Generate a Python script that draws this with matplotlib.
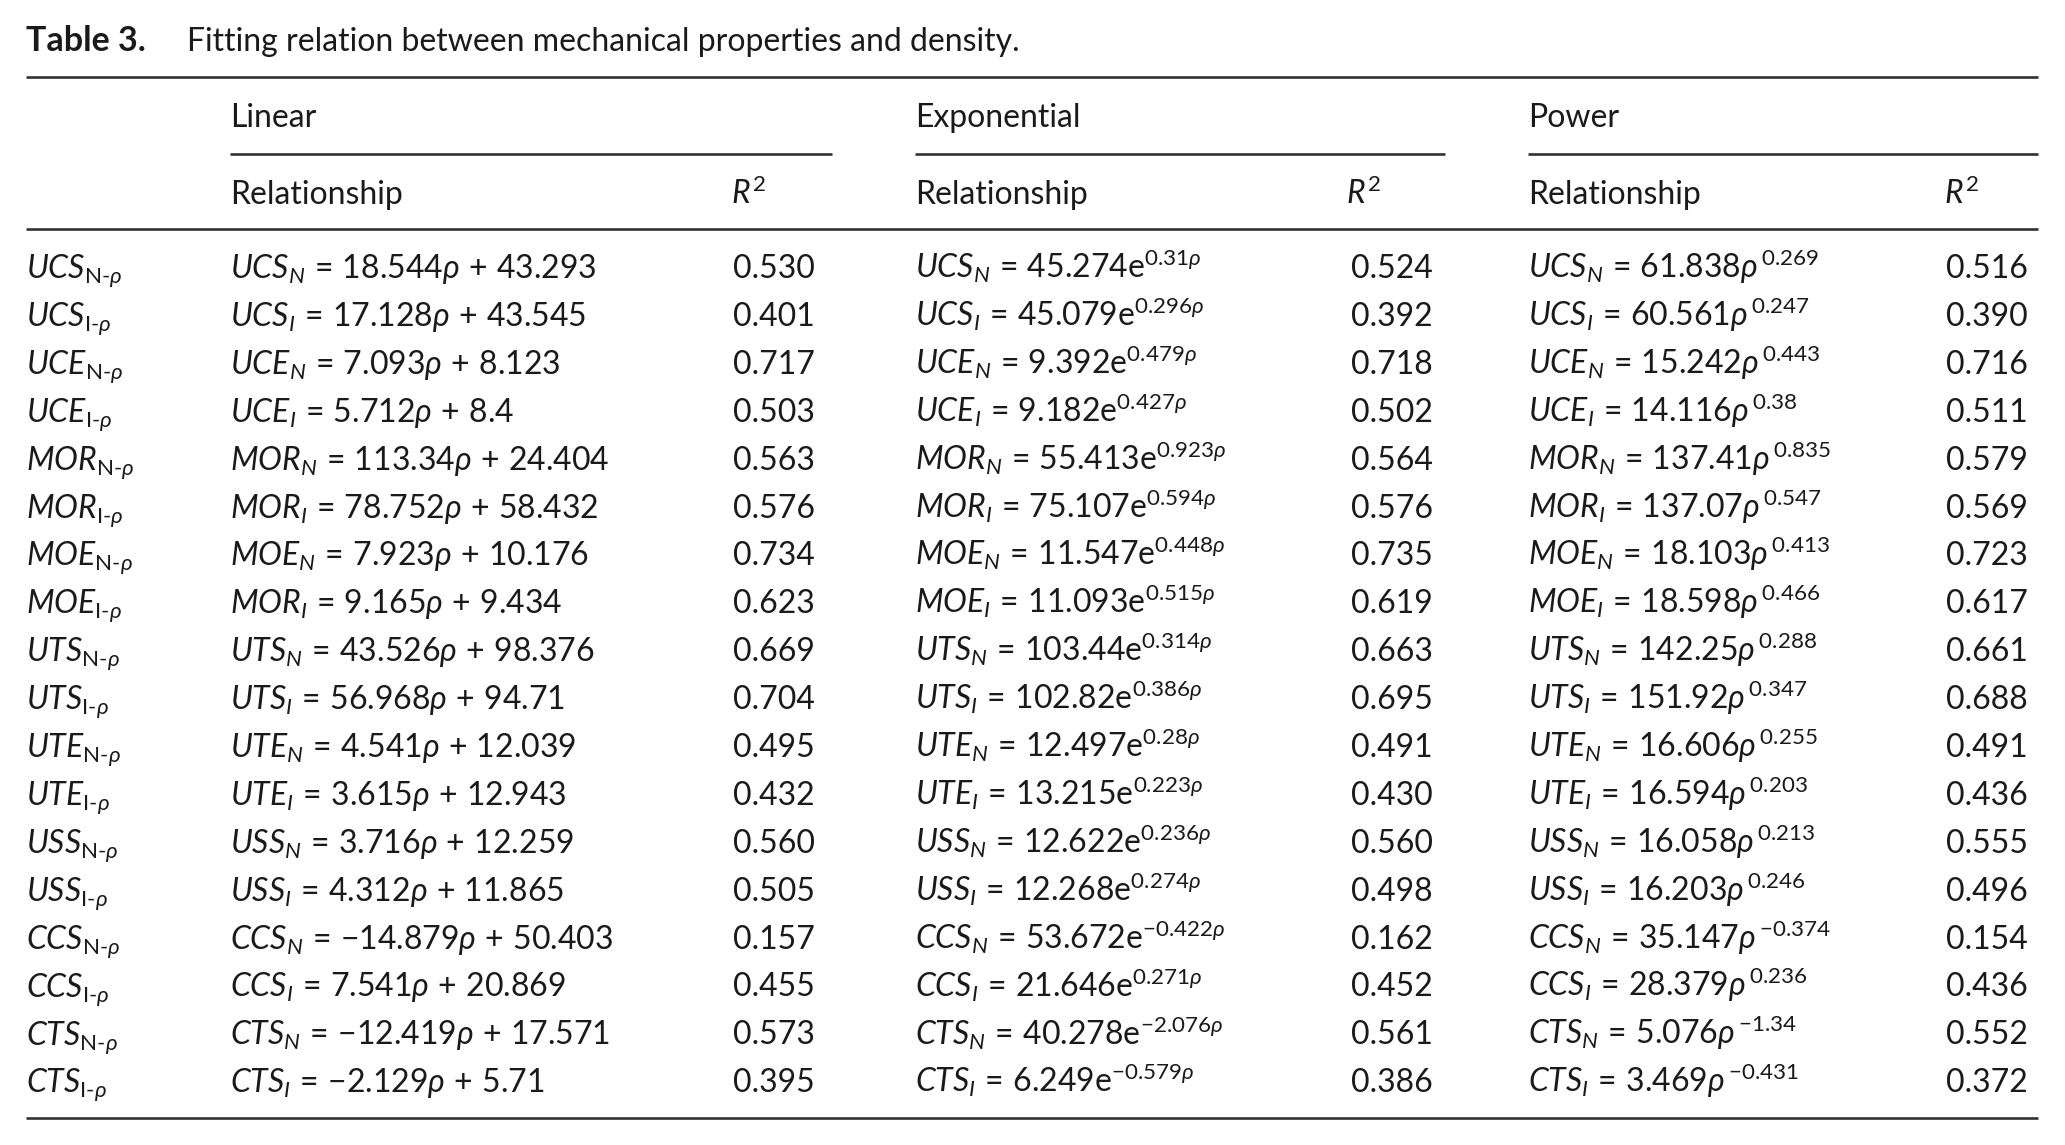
import matplotlib
matplotlib.use('Agg')
import matplotlib.pyplot as plt

plt.rcParams['font.family'] = ['Lato', 'DejaVu Sans']
plt.rcParams['mathtext.fontset'] = 'custom'
plt.rcParams['mathtext.rm'] = 'Lato'
plt.rcParams['mathtext.it'] = 'Lato:italic'
plt.rcParams['mathtext.bf'] = 'Lato:bold'
plt.rcParams['mathtext.fallback'] = 'stixsans'

# table data
props = ['UCS', 'UCS', 'UCE', 'UCE', 'MOR', 'MOR', 'MOE', 'MOE', 'UTS', 'UTS',
         'UTE', 'UTE', 'USS', 'USS', 'CCS', 'CCS', 'CTS', 'CTS']
groups = ['N', 'I'] * 9
# left side names in the linear column (row 8 says MOR in the source)
lin_lhs = ['UCS', 'UCS', 'UCE', 'UCE', 'MOR', 'MOR', 'MOE', 'MOR', 'UTS', 'UTS',
           'UTE', 'UTE', 'USS', 'USS', 'CCS', 'CCS', 'CTS', 'CTS']
lin_slope = ['18.544', '17.128', '7.093', '5.712', '113.34', '78.752', '7.923', '9.165', '43.526',
             '56.968', '4.541', '3.615', '3.716', '4.312', '-14.879', '7.541', '-12.419', '-2.129']
lin_icpt = ['43.293', '43.545', '8.123', '8.4', '24.404', '58.432', '10.176', '9.434', '98.376',
            '94.71', '12.039', '12.943', '12.259', '11.865', '50.403', '20.869', '17.571', '5.71']
lin_r2 = ['0.530', '0.401', '0.717', '0.503', '0.563', '0.576', '0.734', '0.623', '0.669',
          '0.704', '0.495', '0.432', '0.560', '0.505', '0.157', '0.455', '0.573', '0.395']
exp_coef = ['45.274', '45.079', '9.392', '9.182', '55.413', '75.107', '11.547', '11.093', '103.44',
            '102.82', '12.497', '13.215', '12.622', '12.268', '53.672', '21.646', '40.278', '6.249']
exp_k = ['0.31', '0.296', '0.479', '0.427', '0.923', '0.594', '0.448', '0.515', '0.314',
         '0.386', '0.28', '0.223', '0.236', '0.274', '-0.422', '0.271', '-2.076', '-0.579']
exp_r2 = ['0.524', '0.392', '0.718', '0.502', '0.564', '0.576', '0.735', '0.619', '0.663',
          '0.695', '0.491', '0.430', '0.560', '0.498', '0.162', '0.452', '0.561', '0.386']
pow_coef = ['61.838', '60.561', '15.242', '14.116', '137.41', '137.07', '18.103', '18.598', '142.25',
            '151.92', '16.606', '16.594', '16.058', '16.203', '35.147', '28.379', '5.076', '3.469']
pow_k = ['0.269', '0.247', '0.443', '0.38', '0.835', '0.547', '0.413', '0.466', '0.288',
         '0.347', '0.255', '0.203', '0.213', '0.246', '-0.374', '0.236', '-1.34', '-0.431']
pow_r2 = ['0.516', '0.390', '0.716', '0.511', '0.579', '0.569', '0.723', '0.617', '0.661',
          '0.688', '0.491', '0.436', '0.555', '0.496', '0.154', '0.436', '0.552', '0.372']

col_heads = ['Linear', 'Exponential', 'Power']
title_bold = 'Table 3.'
title_text = 'Fitting relation between mechanical properties and density.'

W, H = 2065, 1145
fig = plt.figure(figsize=(W / 100, H / 100), dpi=100)
ax = fig.add_axes([0, 0, 1, 1])
ax.set_xlim(0, W)
ax.set_ylim(H, 0)
ax.axis('off')

txt = '#1a1a1a'
fs = 23
rule = dict(color='#333333', lw=1.9, solid_capstyle='butt')

# title
ax.text(26, 51, title_bold, fontsize=24.5, fontweight='bold', color=txt, va='baseline')
ax.text(187, 51, title_text, fontsize=fs, color=txt, va='baseline')

# rules
left, right = 26, 2038
ax.plot([left, right], [77, 77], **rule)
ax.plot([left, right], [229, 229], **rule)
ax.plot([left, right], [1118, 1118], **rule)

col_x = [230, 915, 1528]
sub_end = [832, 1445, 2038]
r2_head_x = [731, 1346, 1944]
r2_x = [733, 1351, 1946]
for cx, ce, rx, head in zip(col_x, sub_end, r2_head_x, col_heads):
    ax.text(cx, 127, head, fontsize=fs, color=txt, va='baseline')
    ax.plot([cx, ce], [154, 154], **rule)
    ax.text(cx, 204, 'Relationship', fontsize=fs, color=txt, va='baseline')
    ax.text(rx, 204, r'$\mathit{R}^{2}$', fontsize=fs, color=txt, va='baseline')

# rows
step = 47.9
eq = r'\,=\,'
for i in range(len(props)):
    yb = 278 + step * i
    p, g = props[i], groups[i]
    ax.text(26, yb, r'$\mathit{%s}_{\mathrm{%s}\text{-}\rho}$' % (p, g),
            fontsize=fs, color=txt, va='baseline')
    lin = r'$\mathit{%s}_{\mathit{%s}}%s{%s}\rho\,+\,{%s}$' % (lin_lhs[i], g, eq, lin_slope[i], lin_icpt[i])
    ex = r'$\mathit{%s}_{\mathit{%s}}%s{%s}\mathrm{e}^{{%s}\rho}$' % (p, g, eq, exp_coef[i], exp_k[i])
    pw = r'$\mathit{%s}_{\mathit{%s}}%s{%s}\rho^{\,{%s}}$' % (p, g, eq, pow_coef[i], pow_k[i])
    for cx, rx, s, r2 in zip(col_x, r2_x, [lin, ex, pw], [lin_r2[i], exp_r2[i], pow_r2[i]]):
        ax.text(cx, yb, s, fontsize=fs, color=txt, va='baseline')
        ax.text(rx, yb, r2, fontsize=fs, color=txt, va='baseline')

fig.savefig('out.png', dpi=100)
